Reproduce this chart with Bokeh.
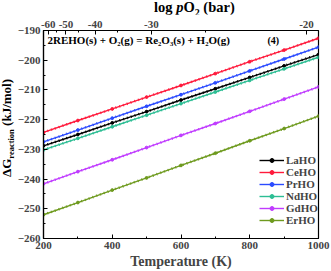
from bokeh.plotting import figure
from bokeh.layouts import row, column
from bokeh.models import (Range1d, LinearAxis, FixedTicker, SingleIntervalTicker,
                          Label, Legend, LegendItem, Div)
from bokeh.embed import file_html
from bokeh.resources import INLINE

# ---------------- data ----------------
temperature = [200, 300, 400, 500, 600, 700, 800, 900, 1000]
LaHO = [-228.8, -225.0, -221.1, -217.3, -213.4, -209.6, -205.8, -201.9, -198.1]
CeHO = [-224.3, -220.3, -216.4, -212.4, -208.5, -204.5, -200.5, -196.6, -192.6]
PrHO = [-227.5, -223.5, -219.5, -215.5, -211.6, -207.6, -203.6, -199.6, -195.6]
NdHO = [-230.2, -226.3, -222.4, -218.5, -214.6, -210.7, -206.8, -202.9, -199.0]
GdHO = [-241.6, -237.5, -233.5, -229.4, -225.3, -221.3, -217.2, -213.1, -209.0]
ErHO = [-252.0, -247.9, -243.7, -239.6, -235.4, -231.3, -227.1, -223.0, -218.8]

series_names = ["LaHO", "CeHO", "PrHO", "NdHO", "GdHO", "ErHO"]
series_values = [LaHO, CeHO, PrHO, NdHO, GdHO, ErHO]
colors = ["#000000", "#FF1A3C", "#2B4BFF", "#2DBE94", "#C03CFF", "#6E9A1E"]

# top axis: log pO2 (bar), non-linear in temperature
top_tick_labels = [-60, -50, -40, -30, -20]
top_minor_labels = [-55, -45, -35, -25]
LOGP_A = 10983.0
LOGP_B = -8.62


def logp_to_T(L):
    return round(LOGP_A / (LOGP_B - L), 3)


FONT = "Liberation Serif"
LEFT_W = 14
TOP_H = 14

p = figure(width=331 - LEFT_W, height=271 - TOP_H,
           x_range=Range1d(200, 1000), y_range=Range1d(-260, -190),
           output_backend="svg", toolbar_location=None,
           min_border_left=42 - LEFT_W, min_border_right=13,
           min_border_top=30 - TOP_H, min_border_bottom=31)
p.xgrid.visible = False
p.ygrid.visible = False
p.outline_line_color = "black"
p.outline_line_width = 1.2
p.background_fill_color = "white"
p.border_fill_color = "white"


def style_axis(ax):
    ax.axis_line_width = 1.2
    ax.major_tick_in = 4
    ax.major_tick_out = 0
    ax.minor_tick_in = 2
    ax.minor_tick_out = 0
    ax.major_tick_line_width = 1
    ax.major_label_text_font = FONT
    ax.major_label_text_font_style = "bold"
    ax.major_label_text_font_size = "11px"
    ax.major_label_standoff = 3


xa = p.xaxis[0]
xa.ticker = SingleIntervalTicker(interval=200, num_minor_ticks=2)
style_axis(xa)
xa.axis_label = "Temperature (K)"
xa.axis_label_text_font = FONT
xa.axis_label_text_font_style = "bold"
xa.axis_label_text_font_size = "14px"
xa.axis_label_standoff = 2

ya = p.yaxis[0]
ya.ticker = SingleIntervalTicker(interval=10, num_minor_ticks=2)
style_axis(ya)

top_ticks = [logp_to_T(v) for v in top_tick_labels]
top_minor = [logp_to_T(v) for v in top_minor_labels]
top = LinearAxis(ticker=FixedTicker(ticks=top_ticks, minor_ticks=top_minor),
                 major_label_overrides={t: str(l) for t, l in zip(top_ticks, top_tick_labels)})
style_axis(top)
p.add_layout(top, "above")

items = []
for name, vals, col in zip(series_names, series_values, colors):
    ln = p.line(temperature, vals, line_color=col, line_width=1.4)
    p.line(temperature, vals, line_color=col, line_width=2.6, line_dash="1 3", line_alpha=0.9)
    sc = p.scatter(temperature, vals, size=2.8, color=col, marker="circle")
    items.append(LegendItem(label=name, renderers=[ln, sc]))

legend = Legend(items=items, location=(214, 10))
legend.label_text_font = FONT
legend.label_text_font_style = "bold"
legend.label_text_font_size = "11px"
legend.glyph_width = 25
legend.glyph_height = 10
legend.label_height = 10
legend.label_standoff = 2
legend.spacing = -5
legend.padding = 2
legend.margin = 0
legend.border_line_alpha = 0
legend.background_fill_alpha = 0
p.add_layout(legend)

# reaction equation (inside the frame)
for x, text, size in [(4, "2REHO(s) + O₂(g) = Re₂O₃(s) + H₂O(g)", "11px"), (224, "(4)", "10px")]:
    p.add_layout(Label(x=x, y=193, x_units="screen", y_units="screen", text=text,
                       text_font=FONT, text_font_style="bold", text_font_size=size,
                       text_color="black"))

# axis titles with sub/superscripts as HTML text
ylab = Div(width=LEFT_W, height=271,
           text=('<div style="writing-mode:vertical-rl; transform:rotate(180deg); '
                 'height:256px; width:14px; line-height:14px; text-align:center; '
                 'white-space:nowrap; font-family:\'Liberation Serif\'; font-weight:bold; '
                 'font-size:13px; color:black; margin-left:0px;">'
                 '&Delta;G<sub style="font-size:8.5px">reaction</sub> (kJ/mol)</div>'),
           styles={"margin": "0", "padding": "0"})
toptitle = Div(width=331 - LEFT_W, height=TOP_H,
               text=('<div style="margin-left:140px; margin-top:0px; white-space:nowrap; '
                     'font-family:\'Liberation Serif\'; font-weight:bold; font-size:14.5px; '
                     'line-height:14px; color:black;">'
                     'log <i>p</i>O<sub style="font-size:10px">2</sub> (bar)</div>'),
               styles={"margin": "0", "padding": "0"})

layout = row(ylab, column(toptitle, p, spacing=0), spacing=0)

open("out.html", "w").write(file_html(layout, INLINE))
